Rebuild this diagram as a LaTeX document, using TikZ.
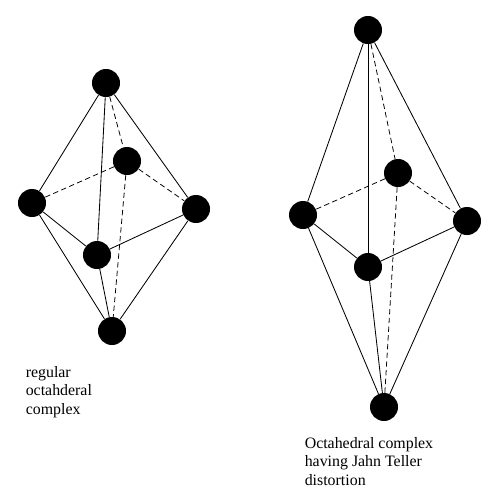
\documentclass[tikz,border=0pt]{standalone}
\usepackage{fontspec}
\setmainfont{Liberation Serif}
\usetikzlibrary{positioning}

\tikzset{
  atom/.style={circle,fill=black,draw=none,minimum size=0.7cm,inner sep=0pt},
  bond/.style={line width=0.6pt},
  hidden/.style={line width=0.55pt,dash pattern=on 3.8pt off 2.4pt},
  caption/.style={anchor=north west,align=left,inner sep=0pt,font=\fontsize{11.3}{13.1}\selectfont}
}

\begin{document}
\begin{tikzpicture}[x=0.025cm,y=-0.025cm]
  \useasboundingbox (0,0) rectangle (490,500);
  % regular complex
  \node[atom] (topA) at (106,83) {};
  \node[atom] (backA) at (127,161) {};
  \node[atom] (leftA) at (32,203) {};
  \node[atom] (rightA) at (196,209) {};
  \node[atom] (frontA) at (97,255) {};
  \node[atom] (botA) at (112,331) {};
  \draw[bond] (topA) -- (leftA);
  \draw[bond] (topA) -- (rightA);
  \draw[bond] (topA) -- (frontA);
  \draw[bond] (leftA) -- (frontA);
  \draw[bond] (frontA) -- (rightA);
  \draw[bond] (leftA) -- (botA);
  \draw[bond] (rightA) -- (botA);
  \draw[bond] (frontA) -- (botA);
  \draw[hidden] (topA) -- (backA);
  \draw[hidden] (backA) -- (leftA);
  \draw[hidden] (backA) -- (rightA);
  \draw[hidden] (backA) -- (botA);
  \node[caption] (labelA) at (25.5,366) {regular\\octahderal\\complex};
  % distorted complex
  \node[atom] (topB) at (368,30) {};
  \node[atom] (backB) at (398,173) {};
  \node[atom] (leftB) at (303,215) {};
  \node[atom] (rightB) at (467,221) {};
  \node[atom] (frontB) at (368,267) {};
  \node[atom] (botB) at (384,407) {};
  \draw[bond] (topB) -- (leftB);
  \draw[bond] (topB) -- (rightB);
  \draw[bond] (topB) -- (frontB);
  \draw[bond] (leftB) -- (frontB);
  \draw[bond] (frontB) -- (rightB);
  \draw[bond] (leftB) -- (botB);
  \draw[bond] (rightB) -- (botB);
  \draw[bond] (frontB) -- (botB);
  \draw[hidden] (topB) -- (backB);
  \draw[hidden] (backB) -- (leftB);
  \draw[hidden] (backB) -- (rightB);
  \draw[hidden] (backB) -- (botB);
  \node[caption] (labelB) at (304.5,437) {Octahedral complex\\having Jahn Teller\\distortion};
\end{tikzpicture}
\end{document}
